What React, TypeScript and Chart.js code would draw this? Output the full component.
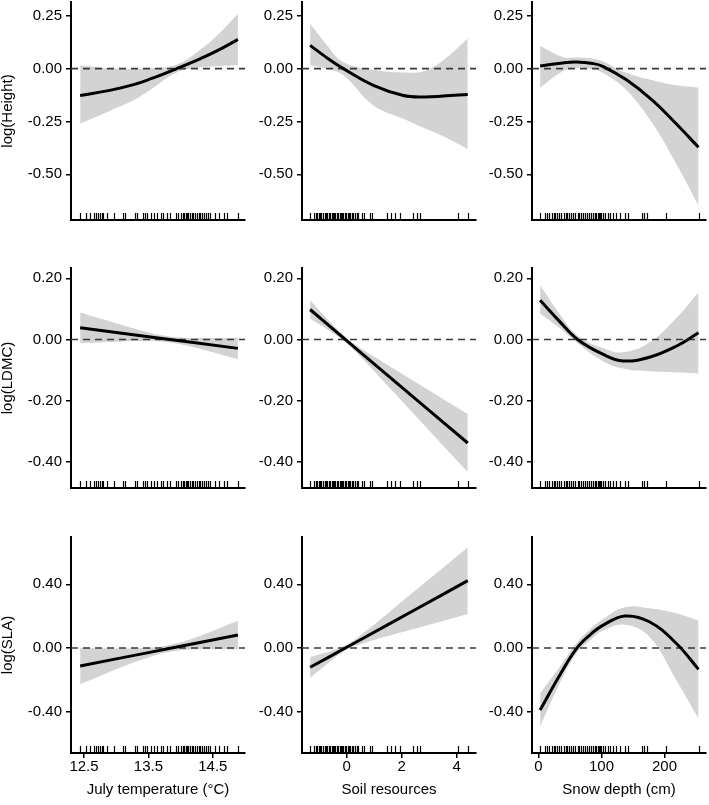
import React, { useEffect, useRef } from "react";
import { Chart, registerables } from "chart.js";

Chart.register(...registerables);

const FONT = "'Liberation Sans', Arial, Helvetica, sans-serif";
Chart.defaults.font.family = FONT;

// ---------- axis titles & ticks ----------
const X_TITLES = ["July temperature (\u00B0C)", "Soil resources", "Snow depth (cm)"];
const Y_TITLES = ["log(Height)", "log(LDMC)", "log(SLA)"];

const X_TICK_VALUES = [
  [12.5, 13.5, 14.5],
  [0, 2, 4],
  [0, 100, 200],
];
const X_TICK_LABELS = [
  ["12.5", "13.5", "14.5"],
  ["0", "2", "4"],
  ["0", "100", "200"],
];
const Y_TICK_VALUES = [
  [-0.5, -0.25, 0, 0.25],
  [-0.4, -0.2, 0, 0.2],
  [-0.4, 0, 0.4],
];
const Y_TICK_LABELS = [
  ["-0.50", "-0.25", "0.00", "0.25"],
  ["-0.40", "-0.20", "0.00", "0.20"],
  ["-0.40", "0.00", "0.40"],
];

const X_MIN = [12.298, -1.625, -10.3];
const X_MAX = [15.0, 4.7, 265.9];
const Y_MIN = [-0.716, -0.485, -0.659];
const Y_MAX = [0.315, 0.2335, 0.697];

const REFERENCE_LEVEL = 0;

// ---------- rug data (observations) ----------
const tempRug = [
  12.44, 12.53, 12.59, 12.65, 12.69, 12.72, 12.75, 12.78, 12.8, 12.86, 12.96,
  13.1, 13.14, 13.29, 13.33, 13.42, 13.45, 13.48, 13.54, 13.59, 13.63, 13.69,
  13.73, 13.79, 13.84, 13.93, 13.96, 14.0, 14.03, 14.06, 14.08, 14.1, 14.12,
  14.15, 14.18, 14.2, 14.22, 14.25, 14.28, 14.3, 14.33, 14.36, 14.4, 14.43,
  14.46, 14.54, 14.59, 14.68, 14.72, 14.89,
];
const soilRug = [
  -1.33, -1.19, -1.13, -1.08, -1.02, -0.97, -0.92, -0.86, -0.8, -0.75, -0.7,
  -0.65, -0.6, -0.55, -0.5, -0.45, -0.41, -0.36, -0.31, -0.26, -0.21, -0.16,
  -0.12, -0.07, -0.02, 0.03, 0.08, 0.13, 0.18, 0.24, 0.3, 0.36, 0.42, 0.55,
  0.63, 0.85, 0.93, 1.45, 1.6, 1.74, 1.94, 2.42, 2.55, 2.68, 4.03, 4.41,
];
const snowRug = [
  2.6, 11, 14, 17, 21, 24, 27, 30, 33, 36, 40, 43, 46, 49, 52, 55, 58, 62, 65,
  68, 71, 74, 77, 80, 84, 87, 90, 92, 94, 96, 98, 100, 103, 106, 110, 113, 118,
  123, 130, 137, 142, 164, 168, 172, 202, 254,
];
const RUGS = [tempRug, soilRug, snowRug];

// ---------- fitted partial effects ----------
// Height
const heightTempX = [12.44, 12.9, 13.27, 13.53, 13.94, 14.3, 14.61, 14.89];
const heightTempFit = [-0.127, -0.103, -0.076, -0.049, 0.0, 0.046, 0.091, 0.138];
const heightTempUpper = [0.016, 0.002, -0.002, 0.0, 0.02, 0.088, 0.17, 0.26];
const heightTempLower = [-0.26, -0.2, -0.15, -0.1, -0.018, 0.005, 0.012, 0.016];

const heightSoilX = [-1.33, -0.73, -0.12, 0.97, 2.06, 2.79, 3.51, 4.4];
const heightSoilFit = [0.11, 0.052, 0.0, -0.079, -0.127, -0.134, -0.13, -0.122];
const heightSoilUpper = [0.213, 0.113, 0.03, -0.005, -0.018, -0.012, 0.04, 0.142];
const heightSoilLower = [0.016, 0.0, -0.032, -0.174, -0.237, -0.28, -0.32, -0.38];

const heightSnowX = [2.6, 38.6, 60, 86, 102, 139, 181, 218.6, 254];
const heightSnowFit = [0.012, 0.027, 0.031, 0.024, 0.011, -0.052, -0.15, -0.261, -0.372];
const heightSnowUpper = [0.107, 0.055, 0.052, 0.047, 0.035, -0.02, -0.055, -0.079, -0.09];
const heightSnowLower = [-0.09, -0.012, 0.003, -0.003, -0.02, -0.1, -0.26, -0.45, -0.648];

// LDMC
const ldmcTempX = [12.44, 13.0, 13.5, 13.8, 14.2, 14.89];
const ldmcTempFit = [0.038, 0.023, 0.009, 0.001, -0.01, -0.029];
const ldmcTempUpper = [0.088, 0.053, 0.023, 0.011, 0.005, 0.006];
const ldmcTempLower = [-0.012, -0.007, -0.005, -0.009, -0.025, -0.064];

const ldmcSoilX = [-1.33, -0.6, 0, 0.5, 1.5, 2.5, 3.5, 4.4];
const ldmcSoilFit = [0.098, 0.042, -0.004, -0.042, -0.118, -0.194, -0.27, -0.338];
const ldmcSoilUpper = [0.128, 0.057, 0.005, -0.028, -0.084, -0.139, -0.194, -0.243];
const ldmcSoilLower = [0.068, 0.027, -0.013, -0.056, -0.152, -0.249, -0.346, -0.433];

const ldmcSnowX = [2.6, 33, 62, 102, 134, 176, 218.6, 254];
const ldmcSnowFit = [0.128, 0.06, 0.0, -0.048, -0.07, -0.058, -0.022, 0.022];
const ldmcSnowUpper = [0.177, 0.085, 0.012, -0.028, -0.042, -0.01, 0.069, 0.154];
const ldmcSnowLower = [0.085, 0.038, -0.012, -0.07, -0.095, -0.104, -0.108, -0.111];

// SLA
const slaTempX = [12.44, 13.0, 13.5, 13.8, 14.2, 14.89];
const slaTempFit = [-0.113, -0.068, -0.029, -0.005, 0.027, 0.082];
const slaTempUpper = [0.002, -0.003, 0.001, 0.017, 0.062, 0.172];
const slaTempLower = [-0.228, -0.133, -0.059, -0.027, -0.008, -0.008];

const slaSoilX = [-1.33, -0.6, 0, 0.5, 1.5, 2.5, 3.5, 4.4];
const slaSoilFit = [-0.121, -0.052, 0.005, 0.052, 0.147, 0.242, 0.337, 0.423];
const slaSoilUpper = [-0.056, -0.02, 0.02, 0.08, 0.219, 0.362, 0.504, 0.633];
const slaSoilLower = [-0.186, -0.084, -0.01, 0.024, 0.075, 0.122, 0.17, 0.213];

const slaSnowX = [2.6, 33, 60, 81, 102, 137, 176, 218.6, 254];
const slaSnowFit = [-0.389, -0.175, -0.005, 0.08, 0.142, 0.201, 0.165, 0.03, -0.134];
const slaSnowUpper = [-0.285, -0.122, 0.03, 0.115, 0.18, 0.256, 0.249, 0.218, 0.172];
const slaSnowLower = [-0.494, -0.228, -0.035, 0.045, 0.108, 0.146, 0.071, -0.2, -0.442];

type PanelData = {
  row: number;
  col: number;
  curved: boolean;
  xs: number[];
  fit: number[];
  upper: number[];
  lower: number[];
};

const PANELS: PanelData[] = [
  { row: 0, col: 0, curved: true, xs: heightTempX, fit: heightTempFit, upper: heightTempUpper, lower: heightTempLower },
  { row: 0, col: 1, curved: true, xs: heightSoilX, fit: heightSoilFit, upper: heightSoilUpper, lower: heightSoilLower },
  { row: 0, col: 2, curved: true, xs: heightSnowX, fit: heightSnowFit, upper: heightSnowUpper, lower: heightSnowLower },
  { row: 1, col: 0, curved: false, xs: ldmcTempX, fit: ldmcTempFit, upper: ldmcTempUpper, lower: ldmcTempLower },
  { row: 1, col: 1, curved: false, xs: ldmcSoilX, fit: ldmcSoilFit, upper: ldmcSoilUpper, lower: ldmcSoilLower },
  { row: 1, col: 2, curved: true, xs: ldmcSnowX, fit: ldmcSnowFit, upper: ldmcSnowUpper, lower: ldmcSnowLower },
  { row: 2, col: 0, curved: false, xs: slaTempX, fit: slaTempFit, upper: slaTempUpper, lower: slaTempLower },
  { row: 2, col: 1, curved: false, xs: slaSoilX, fit: slaSoilFit, upper: slaSoilUpper, lower: slaSoilLower },
  { row: 2, col: 2, curved: true, xs: slaSnowX, fit: slaSnowFit, upper: slaSnowUpper, lower: slaSnowLower },
];

// ---------- layout (page pixels) ----------
const AREA_LEFT = [71, 302, 532];
const AREA_RIGHT = [245, 476, 706];
const CANVAS_LEFT = [0, 230, 460];
const AREA_TOP = [2, 268, 537];
const AREA_BOTTOM = [220, 488, 753];
const PAD_TOP = [2, 10, 10];
const PAD_RIGHT = 3;
const X_AXIS_H = 52;

const BAND_COLOR = "#d3d3d3";
const TICK_FONT = { family: FONT, size: 15, lineHeight: 1 };
const TITLE_FONT = { family: FONT, size: 15, lineHeight: 1 };

function Panel({ p }: { p: PanelData }) {
  const ref = useRef<HTMLCanvasElement | null>(null);
  const { row, col } = p;
  const canvasLeft = CANVAS_LEFT[col];
  const canvasTop = AREA_TOP[row] - PAD_TOP[row];
  const width = AREA_RIGHT[col] + PAD_RIGHT - canvasLeft;
  const height = PAD_TOP[row] + (AREA_BOTTOM[row] - AREA_TOP[row]) + X_AXIS_H;
  const yAxisW = AREA_LEFT[col] - canvasLeft;
  const isBottom = row === 2;
  const isLeft = col === 0;

  useEffect(() => {
    const rug = RUGS[col];
    const zeroLine = {
      id: "zeroLine",
      beforeDatasetDraw(chart: any, args: any) {
        if (args.index !== 0) return;
        const { ctx, chartArea, scales } = chart;
        const y = scales.y.getPixelForValue(REFERENCE_LEVEL);
        ctx.save();
        ctx.strokeStyle = "#3a3a3a";
        ctx.lineWidth = 1.6;
        ctx.setLineDash([7, 5]);
        ctx.beginPath();
        ctx.moveTo(chartArea.left, y);
        ctx.lineTo(chartArea.right, y);
        ctx.stroke();
        ctx.restore();
      },
    };
    const rugPlugin = {
      id: "rug",
      afterDatasetsDraw(chart: any) {
        const { ctx, chartArea, scales } = chart;
        ctx.save();
        ctx.strokeStyle = "#000";
        ctx.lineWidth = 1.2;
        ctx.beginPath();
        for (const v of rug) {
          const x = Math.round(scales.x.getPixelForValue(v)) + 0.5;
          ctx.moveTo(x, chartArea.bottom);
          ctx.lineTo(x, chartArea.bottom - 7);
        }
        ctx.stroke();
        ctx.restore();
      },
    };

    const fitTension = p.curved ? 0.4 : 0;

    const chart = new Chart(ref.current as HTMLCanvasElement, {
      type: "line",
      data: {
        datasets: [
          {
            data: p.xs.map((x, i) => ({ x, y: p.fit[i] })),
            borderColor: "#000",
            borderWidth: 3,
            pointRadius: 0,
            fill: false,
            tension: fitTension,
            borderCapStyle: "butt",
          },
          {
            data: p.xs.map((x, i) => ({ x, y: p.lower[i] })),
            borderColor: "rgba(0,0,0,0)",
            borderWidth: 0,
            pointRadius: 0,
            fill: false,
            tension: 0.4,
          },
          {
            data: p.xs.map((x, i) => ({ x, y: p.upper[i] })),
            borderColor: "rgba(0,0,0,0)",
            borderWidth: 0,
            pointRadius: 0,
            fill: "-1",
            backgroundColor: BAND_COLOR,
            tension: 0.4,
          },
        ],
      } as any,
      options: {
        animation: false,
        responsive: false,
        events: [],
        layout: { padding: { left: 0, right: PAD_RIGHT, top: PAD_TOP[row], bottom: 0 } },
        plugins: {
          legend: { display: false },
          tooltip: { enabled: false },
        },
        scales: {
          x: {
            type: "linear",
            min: X_MIN[col],
            max: X_MAX[col],
            afterBuildTicks: (s: any) => {
              s.ticks = X_TICK_VALUES[col].map((v) => ({ value: v }));
            },
            afterFit: (s: any) => {
              s.height = X_AXIS_H;
              s.paddingLeft = 0;
              s.paddingRight = 0;
              s.paddingTop = 0;
              s.paddingBottom = 0;
            },
            grid: {
              display: isBottom,
              drawOnChartArea: false,
              drawTicks: true,
              tickLength: 5,
              color: "#000",
              lineWidth: 1.5,
            },
            border: { display: true, color: "#000", width: 2 },
            ticks: {
              display: isBottom,
              font: TICK_FONT,
              color: "#000",
              padding: 1,
              maxRotation: 0,
              autoSkip: false,
              callback: (_v: any, i: number) => X_TICK_LABELS[col][i],
            },
            title: {
              display: isBottom,
              text: X_TITLES[col],
              font: TITLE_FONT,
              color: "#000",
              padding: { top: 0, bottom: 8 },
            },
          },
          y: {
            type: "linear",
            min: Y_MIN[row],
            max: Y_MAX[row],
            afterBuildTicks: (s: any) => {
              s.ticks = Y_TICK_VALUES[row].map((v) => ({ value: v }));
            },
            afterFit: (s: any) => {
              s.width = yAxisW;
              s.paddingLeft = 0;
              s.paddingRight = 0;
              s.paddingTop = 0;
              s.paddingBottom = 0;
            },
            grid: {
              display: true,
              drawOnChartArea: false,
              drawTicks: true,
              tickLength: 5,
              color: "#000",
              lineWidth: 1.5,
            },
            border: { display: true, color: "#000", width: 2 },
            ticks: {
              font: TICK_FONT,
              color: "#000",
              padding: 4,
              autoSkip: false,
              callback: (_v: any, i: number) => Y_TICK_LABELS[row][i],
            },
            title: {
              display: isLeft,
              text: Y_TITLES[row],
              font: TITLE_FONT,
              color: "#000",
              padding: { top: 0, bottom: 0 },
            },
          },
        },
      } as any,
      plugins: [zeroLine, rugPlugin],
    });
    return () => chart.destroy();
  }, []);

  return (
    <canvas
      ref={ref}
      width={width}
      height={height}
      style={{ position: "absolute", left: canvasLeft, top: canvasTop, width, height }}
    />
  );
}

export default function App() {
  return (
    <div style={{ position: "absolute", left: 0, top: 0, width: 709, height: 805, background: "#fff", overflow: "hidden" }}>
      {PANELS.map((p) => (
        <Panel key={`${p.row}-${p.col}`} p={p} />
      ))}
    </div>
  );
}
